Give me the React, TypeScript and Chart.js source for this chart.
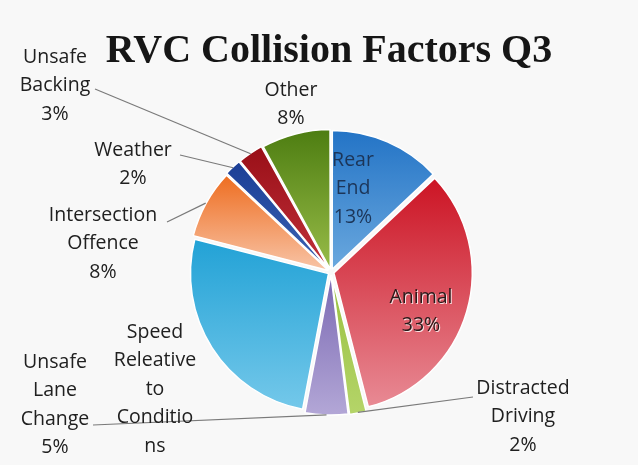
import React, { useEffect, useRef } from "react";
import { Chart, registerables } from "chart.js";

Chart.register(...registerables);

const categories = [
  "Rear End",
  "Animal",
  "Distracted Driving",
  "Unsafe Lane Change",
  "Speed Releative to Conditions",
  "Intersection Offence",
  "Weather",
  "Unsafe Backing",
  "Other",
];
const values = [13, 33, 2, 5, 26, 8, 2, 3, 8];
const labelLines = [
  ["Rear", "End", "13%"],
  ["Animal", "33%"],
  ["Distracted", "Driving", "2%"],
  ["Unsafe", "Lane", "Change", "5%"],
  ["Speed", "Releative", "to", "Conditio", "ns"],
  ["Intersection", "Offence", "8%"],
  ["Weather", "2%"],
  ["Unsafe", "Backing", "3%"],
  ["Other", "8%"],
];
const topColors = ["#2474c6", "#cc1424", "#98c040", "#7a68b2", "#22a2d6", "#ee6e22", "#1c3f96", "#9a1018", "#4e7e12"];
const bottomColors = ["#6aa8de", "#e88a94", "#b4d468", "#b2a6d6", "#74c8ea", "#f8c4a6", "#3a62b4", "#c0303a", "#98bc48"];

// label layout: [centerX, firstLineY, leaderStartX, leaderStartY] (leader null if none)
const labelLayout: Array<[number, number, number | null, number | null]> = [
  [353, 160, null, null],
  [421, 297, null, null],
  [523, 388, 473, 397],
  [55, 362, 93, 425],
  [155, 332, null, null],
  [103, 215, 167, 222],
  [133, 150, 180, 155],
  [55, 57, 95, 89],
  [291, 90, null, null],
];
const insideLabels = [0, 1];

const RADIUS = 138;

export default function App() {
  const ref = useRef<HTMLCanvasElement>(null);
  useEffect(() => {
    document.body.style.margin = "0";
    const canvas = ref.current!;
    const total = values.reduce((a, b) => a + b, 0);

    const sliceAngles = (i: number) => {
      let cum = 0;
      for (let k = 0; k < i; k++) cum += values[k];
      const a0 = -Math.PI / 2 + (2 * Math.PI * cum) / total;
      const a1 = a0 + (2 * Math.PI * values[i]) / total;
      return [a0, a1];
    };

    const bgPlugin = {
      id: "bg",
      beforeDraw(chart: any) {
        const c = chart.ctx;
        c.save();
        c.fillStyle = "#f8f8f8";
        c.fillRect(0, 0, chart.width, chart.height);
        c.restore();
      },
    };

    const labelPlugin = {
      id: "labels",
      afterDraw(chart: any) {
        const c = chart.ctx;
        const meta = chart.getDatasetMeta(0);
        c.save();
        // title
        c.fillStyle = "#161616";
        c.font = "bold 40px 'Liberation Serif'";
        c.textAlign = "center";
        c.textBaseline = "alphabetic";
        c.fillText("RVC Collision Factors Q3", 329, 62, 448);

        c.font = "19.5px 'Open Sans'";
        c.textBaseline = "middle";
        labelLines.forEach((lines, i) => {
          const [x, y, lx, ly] = labelLayout[i];
          const arc = meta.data[i];
          if (lx !== null && ly !== null && arc) {
            const mid = (arc.startAngle + arc.endAngle) / 2;
            const r = arc.outerRadius + 5;
            const ax = arc.x + Math.cos(mid) * r;
            const ay = arc.y + Math.sin(mid) * r;
            c.strokeStyle = "#7a7a7a";
            c.lineWidth = 1.2;
            c.beginPath();
            c.moveTo(lx, ly);
            c.lineTo(ax, ay);
            c.stroke();
          }
          lines.forEach((t, j) => {
            const ty = y + j * 28.5;
            if (insideLabels.includes(i)) {
              if (i === 1) {
                c.fillStyle = "rgba(255,255,255,0.8)";
                c.fillText(t, x + 1, ty + 1);
                c.fillStyle = "#2a1a1a";
              } else {
                c.fillStyle = "#1c3558";
              }
            } else {
              c.fillStyle = "#202020";
            }
            c.fillText(t, x, ty);
          });
        });
        c.restore();
      },
    };

    const chart = new Chart(canvas, {
      type: "pie",
      data: {
        labels: categories,
        datasets: [
          {
            data: values,
            backgroundColor: (ctx: any) => {
              const ch = ctx.chart;
              const area = ch.chartArea;
              const i = ctx.dataIndex;
              if (!area || i === undefined) return topColors[i ?? 0];
              const cx = (area.left + area.right) / 2;
              const cy = (area.top + area.bottom) / 2;
              const [a0, a1] = sliceAngles(i);
              const ys = [cy, cy + Math.sin(a0) * RADIUS, cy + Math.sin(a1) * RADIUS];
              for (let k = -2; k <= 4; k++) {
                const ang = (k * Math.PI) / 2;
                if (ang > a0 && ang < a1) ys.push(cy + Math.sin(ang) * RADIUS);
              }
              const minY = Math.min(...ys);
              const maxY = Math.max(...ys);
              const g = ch.ctx.createLinearGradient(0, minY, 0, maxY + 0.01);
              g.addColorStop(0, topColors[i]);
              g.addColorStop(1, bottomColors[i]);
              return g;
            },
            borderColor: "#ffffff",
            borderWidth: 1.5,
            offset: 12,
          },
        ],
      },
      options: {
        animation: false,
        responsive: false,
        radius: RADIUS,
        layout: { padding: { left: 24, right: 0, top: 79, bottom: 0 } },
        plugins: {
          legend: { display: false },
          tooltip: { enabled: false },
          title: { display: false },
        },
      } as any,
      plugins: [bgPlugin, labelPlugin],
    });
    return () => chart.destroy();
  }, []);
  return <canvas ref={ref} width={638} height={465} style={{ display: "block" }} />;
}
